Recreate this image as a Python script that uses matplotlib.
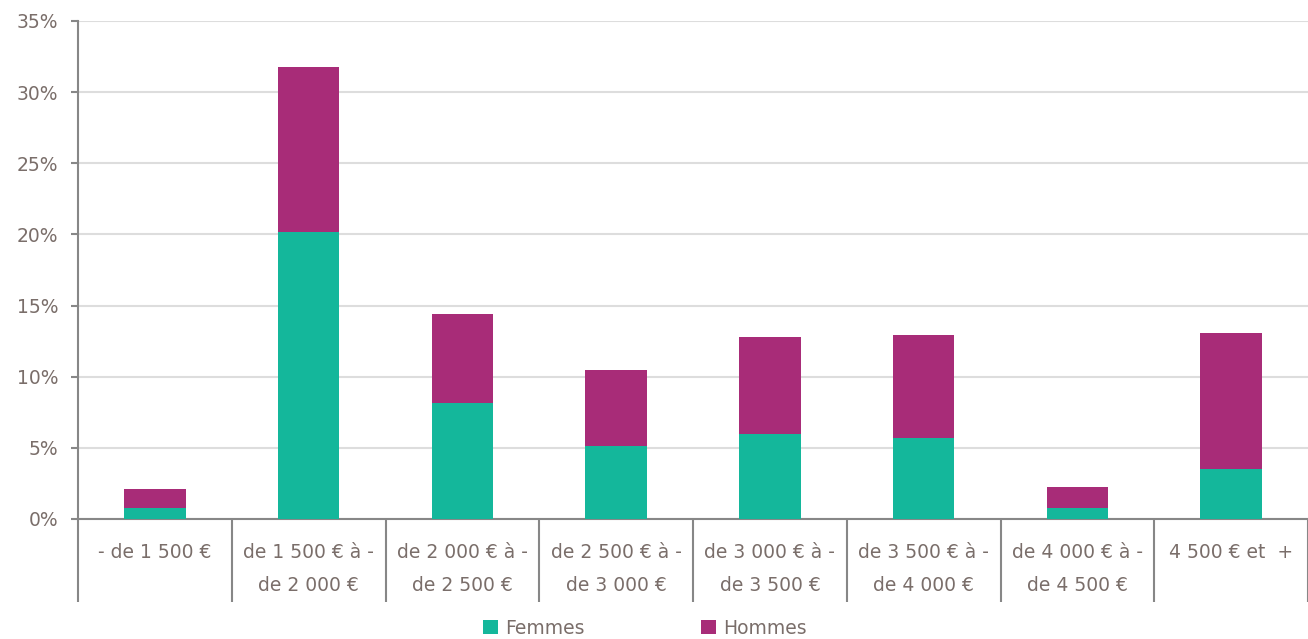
import matplotlib.pyplot as plt
from matplotlib.ticker import FuncFormatter
import numpy as np

# Data (share of people, %)
categories = ["- de 1 500 €", "de 1 500 € à -\nde 2 000 €", "de 2 000 € à -\nde 2 500 €",
              "de 2 500 € à -\nde 3 000 €", "de 3 000 € à -\nde 3 500 €", "de 3 500 € à -\nde 4 000 €",
              "de 4 000 € à -\nde 4 500 €", "4 500 € et  +"]
femmes = [0.8, 20.2, 8.15, 5.15, 6.0, 5.7, 0.8, 3.5]
total = [2.1, 31.8, 14.4, 10.5, 12.8, 12.9, 2.25, 13.1]
hommes = [t - f for t, f in zip(total, femmes)]

teal = "#14B79B"
magenta = "#A82C78"
text_color = "#7A6E6A"
axis_color = "#878787"
fs = 13.5

plt.rcParams['font.family'] = ['DejaVu Sans']

fig = plt.figure(figsize=(13.08, 6.39), dpi=100)
ax = fig.add_axes([78 / 1308, 1 - 519 / 639, 1 - 78 / 1308, (519 - 21) / 639])

x = np.arange(len(categories))
ax.bar(x, femmes, width=0.4, color=teal, label="Femmes", zorder=3)
ax.bar(x, hommes, width=0.4, bottom=femmes, color=magenta, label="Hommes", zorder=3)

ax.set_xlim(-0.5, len(categories) - 0.5)
ax.set_ylim(0, 35)
ax.set_yticks(np.arange(0, 36, 5))
ax.yaxis.set_major_formatter(FuncFormatter(lambda v, p: f"{v:.0f}%"))
ax.grid(axis="y", color="#DDDDDD", linewidth=1.5, zorder=0)

for side in ["top", "right"]:
    ax.spines[side].set_visible(False)
for side in ["left", "bottom"]:
    ax.spines[side].set_color(axis_color)
    ax.spines[side].set_linewidth(1.5)

ax.tick_params(axis="y", colors=axis_color, labelcolor=text_color, labelsize=fs,
               length=5, width=1.5, pad=9)

# category labels, with long boundary ticks below the axis
ax.set_xticks(x)
ax.set_xticklabels(categories, linespacing=1.95)
ax.tick_params(axis="x", which="major", length=0, labelsize=fs, labelcolor=text_color, pad=17)
ax.set_xticks(np.arange(-0.5, len(categories), 1.0), minor=True)
ax.tick_params(axis="x", which="minor", length=60, width=1.5, color=axis_color, direction="out")

fig.legend(loc="center", bbox_to_anchor=(0.493, 1 - 628 / 639), ncol=2, frameon=False,
           fontsize=fs, handlelength=0.8, handleheight=0.8, handletextpad=0.4,
           columnspacing=6.2, labelcolor=text_color)

fig.savefig("out.png", dpi=100)
